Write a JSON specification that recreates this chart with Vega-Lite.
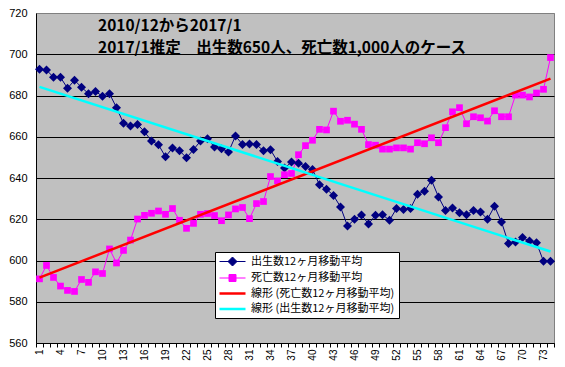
{
  "$schema": "https://vega.github.io/schema/vega-lite/v6.json",
  "width": 518,
  "height": 330,
  "autosize": {"type": "none"},
  "padding": {"left": 36, "top": 13, "right": 11, "bottom": 24},
  "background": "white",
  "config": {
    "view": {"fill": "#C0C0C0", "stroke": "#808080", "strokeWidth": 1},
    "font": "Liberation Sans"
  },
  "title": {
    "text": ["2010/12から2017/1", "2017/1推定　出生数650人、死亡数1,000人のケース"],
    "anchor": "start",
    "frame": "group",
    "dx": 62,
    "offset": -64,
    "fontSize": 15.5,
    "font": "Noto Sans CJK JP",
    "fontWeight": "bold",
    "color": "black",
    "lineHeight": 22,
    "baseline": "bottom"
  },
  "data": {
    "values": [
      {"i": 1, "b": 692.7, "d": 591.1}, {"i": 2, "b": 692.4, "d": 597.6}, {"i": 3, "b": 688.8, "d": 591.8}, {"i": 4, "b": 688.8, "d": 587.6},
      {"i": 5, "b": 683.5, "d": 585.5}, {"i": 6, "b": 687.4, "d": 585.0}, {"i": 7, "b": 684.0, "d": 590.8}, {"i": 8, "b": 680.9, "d": 589.4},
      {"i": 9, "b": 682.0, "d": 594.5}, {"i": 10, "b": 679.6, "d": 593.7}, {"i": 11, "b": 680.9, "d": 605.6}, {"i": 12, "b": 674.1, "d": 598.8},
      {"i": 13, "b": 666.5, "d": 604.9}, {"i": 14, "b": 665.2, "d": 609.9}, {"i": 15, "b": 666.0, "d": 620.1}, {"i": 16, "b": 662.4, "d": 621.9},
      {"i": 17, "b": 658.0, "d": 622.9}, {"i": 18, "b": 656.1, "d": 624.0}, {"i": 19, "b": 650.3, "d": 622.4}, {"i": 20, "b": 654.6, "d": 625.2},
      {"i": 21, "b": 653.2, "d": 619.5}, {"i": 22, "b": 649.8, "d": 615.6}, {"i": 23, "b": 653.8, "d": 618.0}, {"i": 24, "b": 657.9, "d": 622.4},
      {"i": 25, "b": 659.0, "d": 622.8}, {"i": 26, "b": 655.0, "d": 621.8}, {"i": 27, "b": 654.2, "d": 619.3}, {"i": 28, "b": 652.6, "d": 622.1},
      {"i": 29, "b": 660.4, "d": 625.0}, {"i": 30, "b": 656.2, "d": 625.7}, {"i": 31, "b": 656.5, "d": 620.3}, {"i": 32, "b": 656.2, "d": 627.6},
      {"i": 33, "b": 653.2, "d": 628.6}, {"i": 34, "b": 653.7, "d": 640.7}, {"i": 35, "b": 648.0, "d": 638.6}, {"i": 36, "b": 644.8, "d": 641.6},
      {"i": 37, "b": 647.7, "d": 642.2}, {"i": 38, "b": 647.2, "d": 651.3}, {"i": 39, "b": 645.6, "d": 655.7}, {"i": 40, "b": 644.1, "d": 658.3},
      {"i": 41, "b": 636.7, "d": 663.6}, {"i": 42, "b": 634.6, "d": 663.3}, {"i": 43, "b": 631.5, "d": 672.4}, {"i": 44, "b": 626.0, "d": 667.5},
      {"i": 45, "b": 616.7, "d": 668.0}, {"i": 46, "b": 620.0, "d": 666.1}, {"i": 47, "b": 622.1, "d": 663.6}, {"i": 48, "b": 617.7, "d": 656.2},
      {"i": 49, "b": 622.0, "d": 655.9}, {"i": 50, "b": 622.2, "d": 654.0}, {"i": 51, "b": 619.5, "d": 654.0}, {"i": 52, "b": 625.2, "d": 654.6},
      {"i": 53, "b": 624.7, "d": 654.6}, {"i": 54, "b": 625.2, "d": 654.0}, {"i": 55, "b": 632.1, "d": 657.1}, {"i": 56, "b": 633.6, "d": 656.6},
      {"i": 57, "b": 638.9, "d": 659.5}, {"i": 58, "b": 630.8, "d": 657.1}, {"i": 59, "b": 624.3, "d": 664.4}, {"i": 60, "b": 625.5, "d": 672.1},
      {"i": 61, "b": 623.2, "d": 674.1}, {"i": 62, "b": 622.2, "d": 666.3}, {"i": 63, "b": 624.3, "d": 669.7}, {"i": 64, "b": 623.5, "d": 669.2},
      {"i": 65, "b": 620.0, "d": 667.6}, {"i": 66, "b": 626.3, "d": 672.6}, {"i": 67, "b": 618.7, "d": 669.7}, {"i": 68, "b": 608.2, "d": 669.7},
      {"i": 69, "b": 609.0, "d": 680.2}, {"i": 70, "b": 611.1, "d": 680.2}, {"i": 71, "b": 609.4, "d": 679.3}, {"i": 72, "b": 608.6, "d": 681.2},
      {"i": 73, "b": 599.6, "d": 683.0}, {"i": 74, "b": 599.6, "d": 698.4}
    ]
  },
  "encoding": {
    "x": {
      "field": "i",
      "type": "quantitative",
      "scale": {"domain": [0.5, 74.5], "nice": false, "zero": false},
      "axis": {
        "values": [0.5,1.5,2.5,3.5,4.5,5.5,6.5,7.5,8.5,9.5,10.5,11.5,12.5,13.5,14.5,15.5,16.5,17.5,18.5,19.5,20.5,21.5,22.5,23.5,24.5,25.5,26.5,27.5,28.5,29.5,30.5,31.5,32.5,33.5,34.5,35.5,36.5,37.5,38.5,39.5,40.5,41.5,42.5,43.5,44.5,45.5,46.5,47.5,48.5,49.5,50.5,51.5,52.5,53.5,54.5,55.5,56.5,57.5,58.5,59.5,60.5,61.5,62.5,63.5,64.5,65.5,66.5,67.5,68.5,69.5,70.5,71.5,72.5,73.5,74.5],
        "grid": false,
        "domainColor": "black",
        "tickColor": "black",
        "tickSize": 4,
        "labelAngle": 270,
        "labelOffset": 3.5,
        "labelExpr": "(datum.value-0.5)%3==0 && datum.value<74 ? ''+(datum.value+0.5) : ''",
        "labelFontSize": 10,
        "labelPadding": 2,
        "labelColor": "black",
        "labelFlush": false,
        "labelOverlap": false,
        "title": null
      }
    }
  },
  "layer": [
    {
      "mark": {"type": "line", "strokeWidth": 1},
      "encoding": {
        "y": {
          "field": "b",
          "type": "quantitative",
          "scale": {"domain": [560, 720], "nice": false, "zero": false},
          "axis": {
            "values": [560,580,600,620,640,660,680,700,720],
            "grid": true,
            "gridColor": {"condition": {"test": "datum.value==720", "value": "#808080"}, "value": "black"},
            "gridOpacity": 1,
            "domainColor": "black",
            "ticks": false,
            "labelFontSize": 11,
            "labelColor": "black",
            "labelPadding": 9,
            "title": null
          }
        },
        "color": {
          "datum": "出生数12ヶ月移動平均",
          "type": "nominal",
          "scale": {
            "domain": ["出生数12ヶ月移動平均", "死亡数12ヶ月移動平均", "線形 (死亡数12ヶ月移動平均)", "線形 (出生数12ヶ月移動平均)"],
            "range": ["#000080", "#FF00FF", "#FF0000", "#00FFFF"]
          },
          "legend": {
            "orient": "none",
            "legendX": 179,
            "legendY": 239,
            "title": null,
            "fillColor": "white",
            "strokeColor": "black",
            "padding": 4,
            "cornerRadius": 0,
            "labelFont": "Noto Sans CJK JP",
            "labelFontSize": 11,
            "labelColor": "black",
            "labelLimit": 300,
            "symbolSize": 100,
            "symbolOffset": 8,
            "labelOffset": 13,
            "rowPadding": 3.5,
            "symbolType": "stroke",
            "encode": {
              "symbols": {
                "update": {
                  "shape": {"signal": "datum.index==0 ? 'M-2.6,0H2.6M0,-0.9L0.9,0L0,0.9L-0.9,0Z' : datum.index==1 ? 'M-2.6,0H2.6M-0.7,-0.7H0.7V0.7H-0.7Z' : 'M-2.6,0H2.6'"},
                  "fill": {"signal": "datum.index==0 ? '#000080' : datum.index==1 ? '#FF00FF' : 'transparent'"},
                  "strokeWidth": {"signal": "datum.index<2 ? 1 : 2.5"},
                  "opacity": {"value": 1}
                }
              }
            }
          }
        }
      }
    },
    {
      "mark": {"type": "line", "strokeWidth": 1},
      "encoding": {
        "y": {"field": "d", "type": "quantitative"},
        "color": {"datum": "死亡数12ヶ月移動平均", "type": "nominal"}
      }
    },
    {
      "mark": {"type": "point", "shape": "diamond", "filled": true, "size": 81, "color": "#000080", "opacity": 1},
      "encoding": {"y": {"field": "b", "type": "quantitative"}}
    },
    {
      "mark": {"type": "point", "shape": "square", "filled": true, "size": 45, "color": "#FF00FF", "opacity": 1},
      "encoding": {"y": {"field": "d", "type": "quantitative"}}
    },
    {
      "transform": [{"regression": "d", "on": "i"}],
      "mark": {"type": "line", "strokeWidth": 2.5},
      "encoding": {
        "y": {"field": "d", "type": "quantitative"},
        "color": {"datum": "線形 (死亡数12ヶ月移動平均)", "type": "nominal"}
      }
    },
    {
      "transform": [{"regression": "b", "on": "i"}],
      "mark": {"type": "line", "strokeWidth": 2.5},
      "encoding": {
        "y": {"field": "b", "type": "quantitative"},
        "color": {"datum": "線形 (出生数12ヶ月移動平均)", "type": "nominal"}
      }
    }
  ]
}
